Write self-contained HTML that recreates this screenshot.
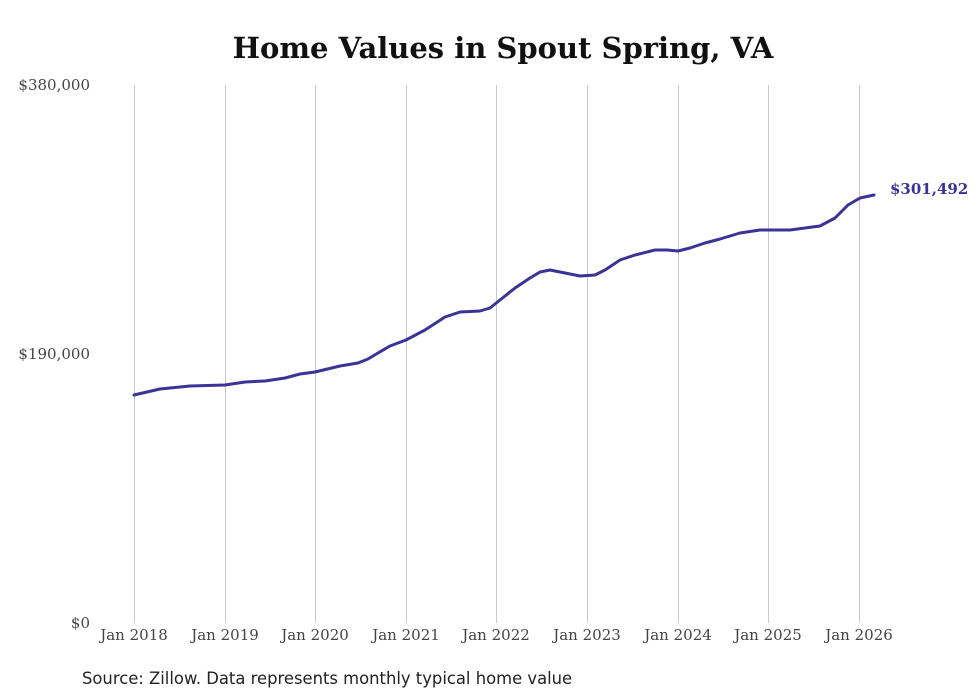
<!DOCTYPE html>
<html><head><meta charset="utf-8"><style>
body{margin:0;background:#fff;}
svg{display:block;}
</style></head><body>
<svg width="980" height="699" xmlns="http://www.w3.org/2000/svg">
<rect width="980" height="699" fill="#fff"/>
<text x="503" y="58" text-anchor="middle" font-family="DejaVu Serif, serif" font-weight="bold" font-size="29" fill="#111">Home Values in Spout Spring, VA</text>
<g stroke="#c8c8c8" stroke-width="1">
<line x1="134.5" y1="85" x2="134.5" y2="623"/>
<line x1="225.5" y1="85" x2="225.5" y2="623"/>
<line x1="315.5" y1="85" x2="315.5" y2="623"/>
<line x1="406.5" y1="85" x2="406.5" y2="623"/>
<line x1="496.5" y1="85" x2="496.5" y2="623"/>
<line x1="587.5" y1="85" x2="587.5" y2="623"/>
<line x1="678.5" y1="85" x2="678.5" y2="623"/>
<line x1="768.5" y1="85" x2="768.5" y2="623"/>
<line x1="859.5" y1="85" x2="859.5" y2="623"/>
</g>
<g font-family="DejaVu Serif, serif" font-size="15" fill="#444">
<text x="90" y="90" text-anchor="end">$380,000</text>
<text x="90" y="359" text-anchor="end">$190,000</text>
<text x="90" y="628" text-anchor="end">$0</text>
<g text-anchor="middle">
<text x="134" y="640">Jan 2018</text>
<text x="225" y="640">Jan 2019</text>
<text x="315" y="640">Jan 2020</text>
<text x="406" y="640">Jan 2021</text>
<text x="496" y="640">Jan 2022</text>
<text x="587" y="640">Jan 2023</text>
<text x="678" y="640">Jan 2024</text>
<text x="768" y="640">Jan 2025</text>
<text x="859" y="640">Jan 2026</text>
</g>
</g>
<polyline fill="none" stroke="#3b3395" stroke-width="3" stroke-linejoin="round" stroke-linecap="round"
points="134,395 160,389 190,386 225,385 245,382 265,381 285,378 300,374 315,372 340,366 358,363 368,359 378,353 390,346 406,340 425,330 445,317 460,312 480,311 490,308 500,300 515,288 530,278 540,272 550,270 565,273 580,276 595,275 605,270 620,260 635,255 655,250 667,250 678,251 690,248 705,243 720,239 740,233 760,230 790,230 820,226 835,218 848,205 860,198 874,195"/>
<text x="890" y="194" font-family="DejaVu Serif, serif" font-weight="bold" font-size="15" fill="#3b3395">$301,492</text>
<text x="82" y="684" font-family="DejaVu Sans, sans-serif" font-size="16.4" fill="#222">Source: Zillow. Data represents monthly typical home value</text>
</svg>
</body></html>
